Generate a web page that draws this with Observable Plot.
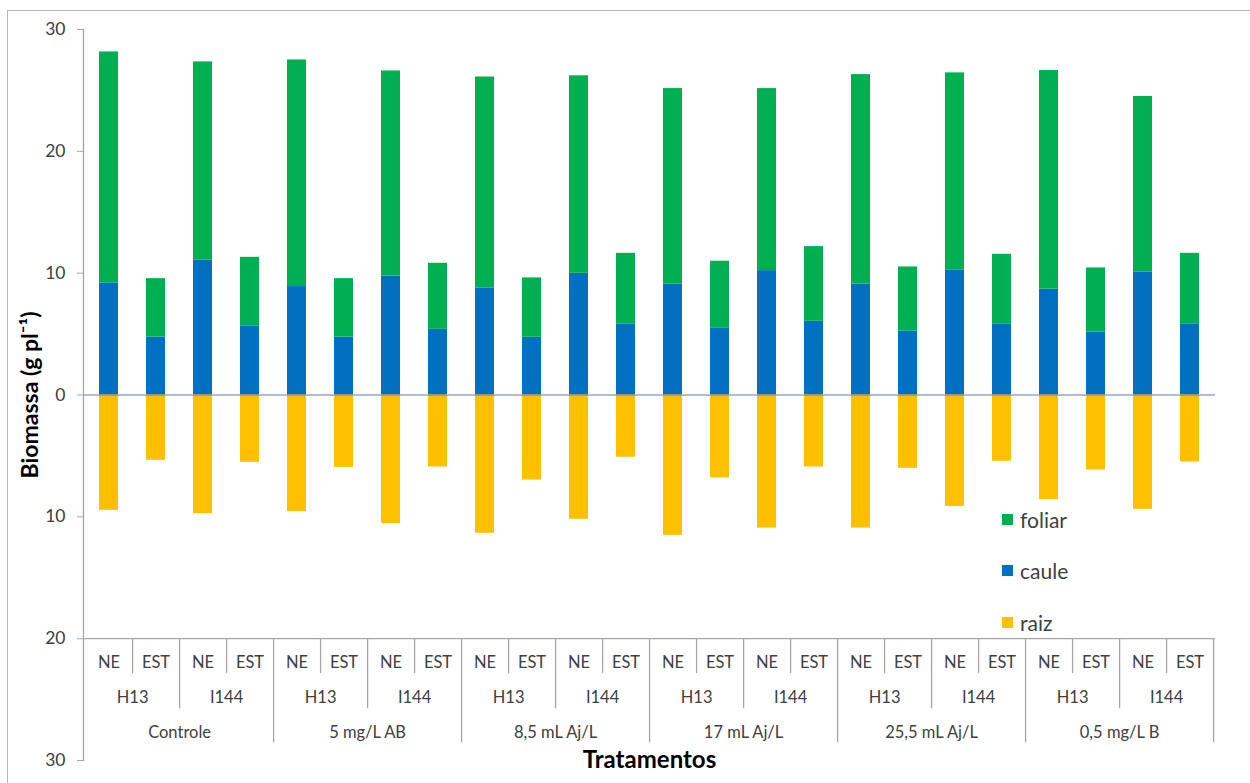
<!DOCTYPE html>
<html>
<head>
<meta charset="utf-8">
<script src="https://cdn.jsdelivr.net/npm/d3@7"></script>
<script src="https://cdn.jsdelivr.net/npm/@observablehq/plot@0.6"></script>
<style>
  html, body { margin: 0; padding: 0; background: #fff; }
  #wrap { position: relative; width: 1250px; height: 783px; overflow: hidden; font-family: Lato, "Open Sans", sans-serif; }
  #border { position: absolute; left: 7px; top: 10px; width: 1300px; height: 900px; border: 1.5px solid #b4b4b4; pointer-events: none; }
  #legend { position: absolute; left: 1002px; top: 505px; }
  .li { display: flex; align-items: center; height: 28px; margin-bottom: 23.5px; font-size: 21px; color: #404040; }
  .sw { width: 11px; height: 11px; margin-right: 7px; }
</style>
</head>
<body>
<div id="wrap">
  <div id="chart"></div>
  <div id="legend"></div>
  <div id="border"></div>
</div>
<script>
// ---- data ----
const treatments = ["Controle", "5 mg/L AB", "8,5 mL Aj/L", "17 mL Aj/L", "25,5 mL Aj/L", "0,5 mg/L B"];
const cultivars = ["H13", "I144"];
const conditions = ["NE", "EST"];
const series = ["foliar", "caule", "raiz"];
const seriesColors = ["#00B050", "#0070C0", "#FFC000"];

// one value per bar, in order treatment > cultivar > condition
const foliar = [18.96, 4.79, 16.26, 5.66, 18.6, 4.79, 16.83, 5.42, 17.31, 4.87, 16.21, 5.83,
                16.04, 5.51, 14.94, 6.13, 17.19, 5.25, 16.17, 5.75, 17.93, 5.28, 14.4, 5.83];
const caule = [9.2, 4.76, 11.08, 5.64, 8.9, 4.76, 9.77, 5.39, 8.79, 4.74, 9.99, 5.8,
               9.11, 5.47, 10.21, 6.05, 9.11, 5.26, 10.27, 5.8, 8.7, 5.15, 10.1, 5.8];
const raiz = [9.47, 5.36, 9.74, 5.53, 9.57, 5.94, 10.56, 5.91, 11.35, 6.98, 10.2, 5.11,
              11.52, 6.81, 10.92, 5.91, 10.92, 6.02, 9.14, 5.44, 8.59, 6.16, 9.38, 5.5];
const yTicks = [-30, -20, -10, 0, 10, 20, 30];

// ---- build ----
const bars = [];
treatments.forEach(t => cultivars.forEach(c => conditions.forEach(s => bars.push({t, c, s, key: `${t}|${c}|${s}`}))));
const keys = bars.map(b => b.key);

const rows = [];
bars.forEach((b, i) => {
  rows.push({key: b.key, part: "caule", v: caule[i]});
  rows.push({key: b.key, part: "foliar", v: foliar[i]});
  rows.push({key: b.key, part: "raiz", v: -raiz[i]});
});

const W = 1250, H = 783;
const mL = 83, mR = 35, mT = 29, mB = 23;
const pIn = 0.6, pOut = 0.3;
const xs = Plot.scale({x: {type: "band", domain: keys, range: [mL, W - mR], paddingInner: pIn, paddingOuter: pOut}});
const half = xs.step / 2;

const axisY0 = -20;                // value where the category axis crosses
const sepLen = {1: 2.87, 2: 5.75, 3: 8.55};
const rowY = [-21.95, -24.82, -27.69];

const seps = bars.map((b, i) => ({key: b.key, level: (i + 1) % 4 === 0 ? 3 : (i + 1) % 2 === 0 ? 2 : 1}));
const cultGroups = bars.filter((b, i) => i % 2 === 0);
const treatGroups = bars.filter((b, i) => i % 4 === 1);

const grey = "#A6A6A6";
const txt = "#404040";

const chart = Plot.plot({
  width: W, height: H,
  marginLeft: mL, marginRight: mR, marginTop: mT, marginBottom: mB,
  style: {fontFamily: "Lato, 'Open Sans', sans-serif", background: "transparent"},
  x: {type: "band", domain: keys, paddingInner: pIn, paddingOuter: pOut, axis: null},
  y: {domain: [-30, 30], axis: null},
  color: {domain: series, range: seriesColors},
  marks: [
    Plot.barY(rows, {x: "key", y: "v", fill: "part"}),
    Plot.ruleY([0], {stroke: "#5A7DB4", strokeWidth: 1.2}),
    Plot.ruleY([axisY0], {stroke: grey, strokeWidth: 1.3}),
    Plot.ruleX(seps, {x: "key", dx: half, y1: axisY0, y2: d => axisY0 - sepLen[d.level], stroke: grey, strokeWidth: 1.3}),
    Plot.frame({anchor: "left", stroke: grey, strokeWidth: 1.3}),
    Plot.axisY({ticks: yTicks, tickFormat: d => Math.abs(d), tickSize: 6, tickPadding: 12, fontSize: 17.5, stroke: grey, fill: txt, label: null}),
    Plot.text(bars, {x: "key", y: rowY[0], text: "s", fontSize: 16.5, fill: txt}),
    Plot.text(cultGroups, {x: "key", dx: half, y: rowY[1], text: "c", fontSize: 16.5, fill: txt}),
    Plot.text(treatGroups, {x: "key", dx: half, y: rowY[2], text: "t", fontSize: 16.5, fill: txt}),
    Plot.text(["Tratamentos"], {frameAnchor: "bottom", lineAnchor: "middle", fontSize: 24, fontWeight: "bold", fill: "#000"}),
    Plot.text(["Biomassa (g pl⁻¹)"], {frameAnchor: "left", textAnchor: "middle", lineAnchor: "middle", rotate: -90, dx: -53, fontSize: 23, fontWeight: "bold", fill: "#000"})
  ]
});
document.getElementById("chart").appendChild(chart);

const legend = document.getElementById("legend");
series.forEach((s, i) => {
  const li = document.createElement("div");
  li.className = "li";
  li.innerHTML = `<span class="sw" style="background:${seriesColors[i]}"></span><span>${s}</span>`;
  legend.appendChild(li);
});
</script>
</body>
</html>
